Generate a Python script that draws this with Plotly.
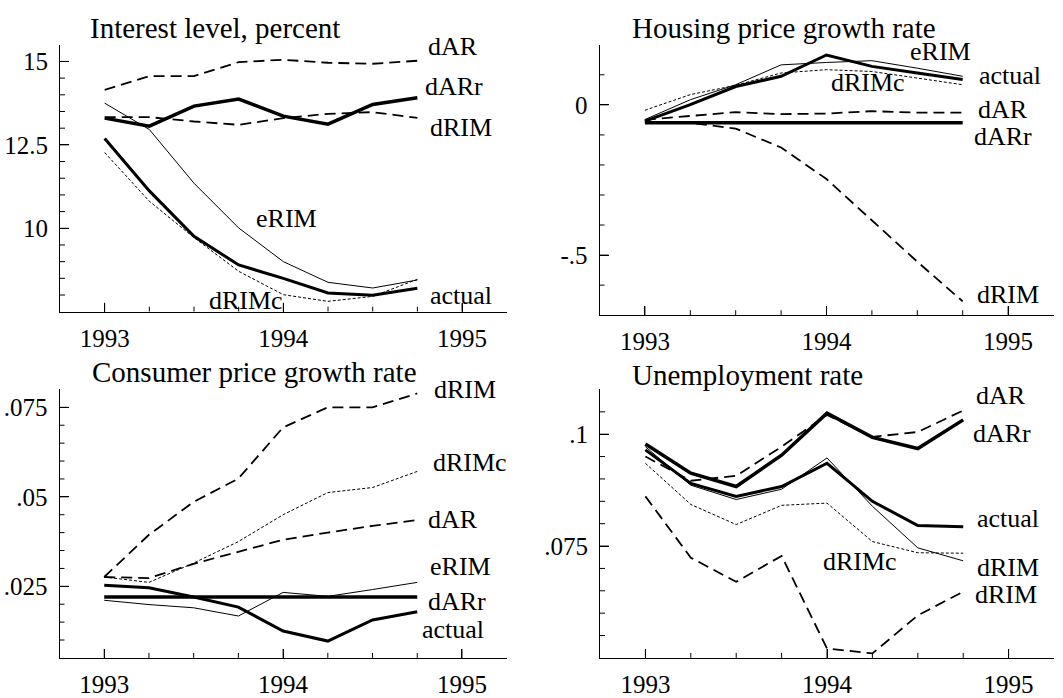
import plotly.graph_objects as go

W, H = 1063, 698
FONT = "Liberation Serif, Times New Roman, serif"

# ---------------- data ----------------
quarters = [1993.0, 1993.25, 1993.5, 1993.75, 1994.0, 1994.25, 1994.5, 1994.75]

x_tick_vals = [1993, 1994, 1995]
x_tick_text = ["1993", "1994", "1995"]
x_minor_vals = [1993.25, 1993.5, 1993.75, 1994.25, 1994.5, 1994.75]

titles = ["Interest level, percent", "Housing price growth rate",
          "Consumer price growth rate", "Unemployment rate"]

# Interest level, percent
int_actual = [12.69, 11.12, 9.76, 8.90, 8.50, 8.06, 7.99, 8.20]
int_eRIM = [13.75, 12.96, 11.35, 10.01, 9.00, 8.38, 8.21, 8.45]
int_dRIMc = [12.27, 10.81, 9.72, 8.71, 8.01, 7.81, 7.96, 8.47]
int_dAR = [14.15, 14.56, 14.56, 14.98, 15.05, 14.96, 14.93, 15.02]
int_dARr = [13.30, 13.06, 13.66, 13.87, 13.36, 13.12, 13.71, 13.91]
int_dRIM = [13.33, 13.33, 13.20, 13.10, 13.30, 13.43, 13.48, 13.31]
int_ticks = [10, 12.5, 15]
int_tick_text = ["10", "12.5", "15"]
int_minor = [8, 8.5, 9, 9.5, 10.5, 11, 11.5, 12, 13, 13.5, 14, 14.5]

# Housing price growth rate
hp_actual = [-0.054, 0.001, 0.061, 0.095, 0.166, 0.128, 0.106, 0.084]
hp_eRIM = [-0.049, 0.017, 0.067, 0.133, 0.141, 0.147, 0.122, 0.095]
hp_dRIMc = [-0.018, 0.034, 0.065, 0.106, 0.117, 0.111, 0.089, 0.067]
hp_dAR = [-0.050, -0.038, -0.024, -0.031, -0.029, -0.021, -0.026, -0.026]
hp_dARr = [-0.060, -0.060, -0.060, -0.060, -0.060, -0.060, -0.060, -0.060]
hp_dRIM = [-0.058, -0.060, -0.079, -0.142, -0.247, -0.384, -0.522, -0.654]
hp_ticks = [-0.5, 0]
hp_tick_text = ["-.5", "0"]
hp_minor = [-0.6, -0.4, -0.3, -0.2, -0.1, 0.1]

# Consumer price growth rate
cpi_actual = [0.0253, 0.0246, 0.0220, 0.0192, 0.0125, 0.0097, 0.0156, 0.0179]
cpi_eRIM = [0.0211, 0.0199, 0.0190, 0.0167, 0.0233, 0.0222, 0.0241, 0.0261]
cpi_dRIMc = [0.0276, 0.0261, 0.0315, 0.0375, 0.0450, 0.0512, 0.0526, 0.0571]
cpi_dAR = [0.0276, 0.0273, 0.0313, 0.0347, 0.0380, 0.0400, 0.0419, 0.0435]
cpi_dARr = [0.0220, 0.0220, 0.0220, 0.0220, 0.0220, 0.0220, 0.0220, 0.0220]
cpi_dRIM = [0.0276, 0.0394, 0.0486, 0.0551, 0.0694, 0.0750, 0.0750, 0.0789]
cpi_ticks = [0.025, 0.05, 0.075]
cpi_tick_text = [".025", ".05", ".075"]
cpi_minor = [0.01, 0.015, 0.02, 0.03, 0.035, 0.04, 0.045, 0.055, 0.06, 0.065, 0.07]

# Unemployment rate
un_actual = [0.0965, 0.0890, 0.0861, 0.0883, 0.0935, 0.0850, 0.0796, 0.0793]
un_eRIM = [0.0972, 0.0886, 0.0854, 0.0877, 0.0947, 0.0839, 0.0746, 0.0717]
un_dRIMc = [0.0935, 0.0843, 0.0798, 0.0841, 0.0846, 0.0760, 0.0735, 0.0734]
un_dAR = [0.0950, 0.0896, 0.0907, 0.0972, 0.1043, 0.0994, 0.1005, 0.1053]
un_dARr = [0.0978, 0.0913, 0.0883, 0.0953, 0.1047, 0.0993, 0.0968, 0.1032]
un_dRIM = [0.0861, 0.0724, 0.0670, 0.0728, 0.0521, 0.0510, 0.0595, 0.0648]
un_ticks = [0.075, 0.1]
un_tick_text = [".075", ".1"]
un_minor = [0.055, 0.06, 0.065, 0.07, 0.08, 0.085, 0.09, 0.095, 0.105]

# ---------------- styles ----------------
STY = {
    "actual": dict(color="black", width=3, dash="solid"),
    "eRIM": dict(color="black", width=1, dash="solid"),
    "dRIMc": dict(color="black", width=1, dash="3px,2px"),
    "dAR": dict(color="black", width=1.8, dash="11px,6px"),
    "dARr": dict(color="black", width=3.5, dash="solid"),
    "dRIM": dict(color="black", width=1.8, dash="11px,6px"),
}
MAJOR_LEN, MINOR_LEN = 9, 5
X_RANGE = [1992.75, 1995.25]

panels = [
    dict(series={"dRIMc": int_dRIMc, "eRIM": int_eRIM, "dAR": int_dAR, "dRIM": int_dRIM,
                 "actual": int_actual, "dARr": int_dARr},
         yr=[7.5, 15.5], ticks=int_ticks, ticktext=int_tick_text, minor=int_minor,
         xpx=(60, 506.7), ypx=(45, 313.5)),
    dict(series={"dRIMc": hp_dRIMc, "eRIM": hp_eRIM, "dAR": hp_dAR, "dRIM": hp_dRIM,
                 "dARr": hp_dARr, "actual": hp_actual},
         yr=[-0.7, 0.2], ticks=hp_ticks, ticktext=hp_tick_text, minor=hp_minor,
         xpx=(599.5, 1053.5), ypx=(45, 317)),
    dict(series={"dRIMc": cpi_dRIMc, "eRIM": cpi_eRIM, "dAR": cpi_dAR, "dRIM": cpi_dRIM,
                 "dARr": cpi_dARr, "actual": cpi_actual},
         yr=[0.005, 0.08], ticks=cpi_ticks, ticktext=cpi_tick_text, minor=cpi_minor,
         xpx=(59.5, 506.7), ypx=(391.7, 661.7)),
    dict(series={"dRIMc": un_dRIMc, "eRIM": un_eRIM, "dRIM": un_dRIM, "dAR": un_dAR,
                 "actual": un_actual, "dARr": un_dARr},
         yr=[0.05, 0.11], ticks=un_ticks, ticktext=un_tick_text, minor=un_minor,
         xpx=(600, 1054), ypx=(391.7, 661.7)),
]

# label texts and pixel positions (centre)
labels = [
    [("dAR", 453, 47), ("dARr", 454, 87), ("dRIM", 461, 128), ("eRIM", 286, 220),
     ("dRIMc", 246, 302), ("actual", 461, 297)],
    [("eRIM", 940, 52), ("actual", 1010, 76), ("dRIMc", 868, 83), ("dAR", 1003, 110),
     ("dARr", 1003, 137), ("dRIM", 1008, 296)],
    [("dRIM", 465, 392), ("dRIMc", 470, 465), ("dAR", 453, 522), ("eRIM", 460, 570),
     ("dARr", 457, 605), ("actual", 453, 633)],
    [("dAR", 1001, 398), ("dARr", 1002, 436), ("actual", 1008, 521), ("dRIM", 1008, 571),
     ("dRIM", 1006, 598), ("dRIMc", 860, 565)],
]
title_pos = [(88, 28), (630, 28), (90, 374), (630, 377)]

fig = go.Figure()
layout = dict(width=W, height=H, margin=dict(l=0, r=0, t=0, b=0),
              paper_bgcolor="white", plot_bgcolor="white", showlegend=False,
              font=dict(family=FONT, color="black", size=25))
annotations = []

for i, p in enumerate(panels):
    n = "" if i == 0 else str(i + 1)
    xa, ya = "x" + n, "y" + n
    for name, vals in p["series"].items():
        s = STY[name]
        fig.add_trace(go.Scatter(x=quarters, y=vals, mode="lines", xaxis=xa, yaxis=ya,
                                 line=dict(color=s["color"], width=s["width"], dash=s["dash"]),
                                 hoverinfo="skip"))
    x0, x1 = p["xpx"]
    y0, y1 = p["ypx"]
    pw, ph = x1 - x0, y1 - y0
    ylo, yhi = p["yr"]
    # data units per pixel along each axis (from the axes' ranges and sizes)
    ux = (X_RANGE[1] - X_RANGE[0]) / pw
    uy = (yhi - ylo) / ph
    # tick marks drawn as a line trace, pointing inward from each axis line
    tx_, ty_ = [], []
    for vals_, ln in ((x_tick_vals, MAJOR_LEN), (x_minor_vals, MINOR_LEN)):
        for v in vals_:
            tx_ += [v, v, None]
            ty_ += [ylo, ylo + ln * uy, None]
    for vals_, ln in ((p["ticks"], MAJOR_LEN), (p["minor"], MINOR_LEN)):
        for v in vals_:
            tx_ += [X_RANGE[0], X_RANGE[0] + ln * ux, None]
            ty_ += [v, v, None]
    fig.add_trace(go.Scatter(x=tx_, y=ty_, mode="lines", xaxis=xa, yaxis=ya,
                             line=dict(color="black", width=1), hoverinfo="skip",
                             cliponaxis=False, connectgaps=False))
    layout["xaxis" + n] = dict(
        domain=[x0 / W, x1 / W], anchor=ya, range=X_RANGE,
        tickvals=x_tick_vals, ticktext=x_tick_text, ticks="inside", ticklen=MAJOR_LEN,
        tickcolor="black", tickwidth=1, showline=True, linecolor="black", linewidth=1,
        showgrid=False, zeroline=False, ticklabelstandoff=4,
        tickfont=dict(family=FONT, size=25, color="black"))
    layout["yaxis" + n] = dict(
        domain=[1 - y1 / H, 1 - y0 / H], anchor=xa, range=p["yr"],
        tickvals=p["ticks"], ticktext=p["ticktext"], ticks="inside", ticklen=MAJOR_LEN,
        tickcolor="black", tickwidth=1, showline=True, linecolor="black", linewidth=1,
        showgrid=False, zeroline=False, ticklabelstandoff=6,
        tickfont=dict(family=FONT, size=25, color="black"))
    for txt, px, py in labels[i]:
        annotations.append(dict(text=txt, x=px / W, y=1 - py / H, xref="paper", yref="paper",
                                xanchor="center", yanchor="middle", showarrow=False,
                                font=dict(family=FONT, size=26, color="black")))
    tx, ty = title_pos[i]
    annotations.append(dict(text=titles[i], x=tx / W, y=1 - ty / H, xref="paper", yref="paper",
                            xanchor="left", yanchor="middle", showarrow=False,
                            font=dict(family=FONT, size=29, color="black")))

layout["annotations"] = annotations
fig.update_layout(**layout)
fig.write_html("out.html", config={"displayModeBar": False},
               post_script="document.body.style.margin='0';")
